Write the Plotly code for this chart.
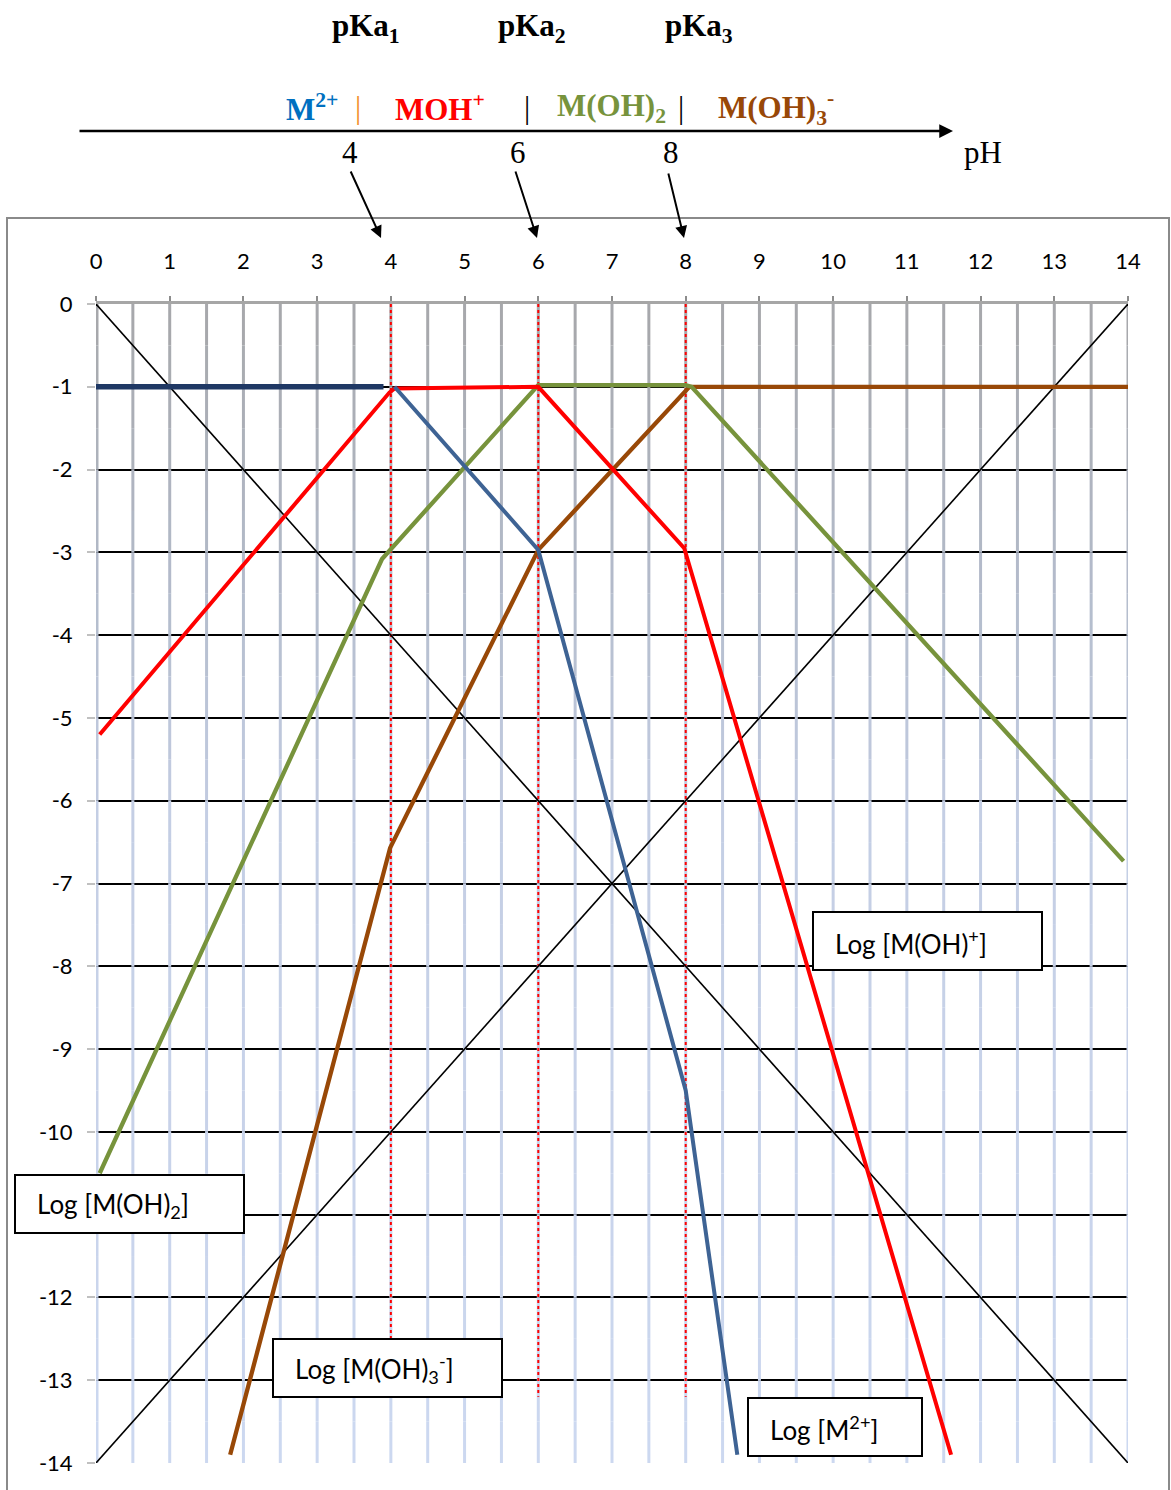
import plotly.graph_objects as go

# ---------------- data ----------------
ph_ticks = list(range(0, 15))
log_ticks = list(range(-14, 1))
grid_x = [i * 0.5 for i in range(29)]
pka_values = [4, 6, 8]

# log[H+] and log[OH-]
h_x = [0, 14]
h_y = [0, -14]
oh_x = [0, 14]
oh_y = [-14, 0]

# log [M2+]
m_flat_x = [0, 3.9]
m_flat_y = [-1, -1]
m_x = [4.05, 6.0, 8.0, 8.7]
m_y = [-1.0, -2.97, -9.5, -13.9]

# log [M(OH)+]
moh_x = [0.05, 3.98, 4.05, 6.0, 7.98, 11.6]
moh_y = [-5.2, -1.07, -1.02, -1.0, -2.95, -13.9]

# log [M(OH)2]
moh2_x = [0.05, 3.88, 6.0, 8.0, 8.08, 13.94]
moh2_y = [-10.5, -3.08, -0.98, -0.98, -1.0, -6.73]

# log [M(OH)3-]
moh3_x = [1.82, 3.99, 6.0, 8.0, 8.05, 14.04]
moh3_y = [-13.9, -6.57, -2.97, -1.05, -1.0, -1.0]

# ---------------- layout geometry ----------------
W, H = 1171, 1490
L, R, T, B = 96, 43, 304, 27
PW, PH = W - L - R, H - T - B


def px(x):
    return (x - L) / PW


def py(y):
    return (H - B - y) / PH


fig = go.Figure()

# vertical gridlines with vertical colour gradient (grey -> light blue)
knots = [(0.0, (166, 167, 170)), (0.25, (180, 188, 204)),
         (0.45, (196, 206, 228)), (1.0, (204, 216, 240))]


def col(t):
    for (t0, c0), (t1, c1) in zip(knots[:-1], knots[1:]):
        if t <= t1:
            f = (t - t0) / (t1 - t0)
            return "rgb(%d,%d,%d)" % tuple(round(a + f * (b - a)) for a, b in zip(c0, c1))
    return "rgb(%d,%d,%d)" % knots[-1][1]


N = 28
for j in range(N):
    y0 = -14 * j / N
    y1 = -14 * (j + 1) / N
    c = col((j + 0.5) / N)
    xs, ys = [], []
    for gx in grid_x[1:]:
        xs += [gx, gx, None]
        ys += [y0, y1, None]
    fig.add_trace(go.Scatter(x=xs, y=ys, mode="lines", line=dict(color=c, width=3),
                             hoverinfo="skip", showlegend=False))
    fig.add_trace(go.Scatter(x=[grid_x[0], grid_x[0]], y=[y0, y1], mode="lines",
                             line=dict(color=c, width=5), hoverinfo="skip", showlegend=False))

# pKa dotted lines
for p in pka_values:
    fig.add_trace(go.Scatter(x=[p, p], y=[0, -13.2], mode="lines",
                             line=dict(color="#FF0000", width=2, dash="dot"),
                             hoverinfo="skip", showlegend=False))

# black diagonals
fig.add_trace(go.Scatter(x=h_x, y=h_y, mode="lines", line=dict(color="black", width=1.6), showlegend=False))
fig.add_trace(go.Scatter(x=oh_x, y=oh_y, mode="lines", line=dict(color="black", width=1.6), showlegend=False))

# species
fig.add_trace(go.Scatter(x=m_flat_x, y=m_flat_y, mode="lines", line=dict(color="#1F3864", width=5.5), showlegend=False))
fig.add_trace(go.Scatter(x=moh3_x, y=moh3_y, mode="lines", line=dict(color="#984807", width=4.3), showlegend=False))
fig.add_trace(go.Scatter(x=moh2_x, y=moh2_y, mode="lines", line=dict(color="#77933C", width=4.3), showlegend=False))
fig.add_trace(go.Scatter(x=moh_x, y=moh_y, mode="lines", line=dict(color="#FF0000", width=4.0), showlegend=False))
fig.add_trace(go.Scatter(x=m_x, y=m_y, mode="lines", line=dict(color="#3E6394", width=4.0), showlegend=False))

shapes = []
annotations = []

# outer frame
shapes.append(dict(type="rect", xref="paper", yref="paper",
                   x0=px(7), x1=px(1169), y0=py(1496), y1=py(218),
                   line=dict(color="#8a8a8a", width=2), layer="below"))

# label boxes
boxes = [
    ("Log [M(OH)<sup>+</sup>]", 813, 1042, 912, 970),
    ("Log [M(OH)<sub>2</sub>]", 15, 244, 1175, 1233),
    ("Log [M(OH)<sub>3</sub><sup>-</sup>]", 273, 502, 1339, 1397),
    ("Log [M<sup>2+</sup>]", 748, 922, 1398, 1456),
]
for txt, x0, x1, y0, y1 in boxes:
    shapes.append(dict(type="rect", xref="paper", yref="paper",
                       x0=px(x0), x1=px(x1), y0=py(y1), y1=py(y0),
                       line=dict(color="black", width=2), fillcolor="white", layer="above"))
    annotations.append(dict(xref="paper", yref="paper", x=px(x0 + 20), y=py((y0 + y1) / 2 + 1),
                            xanchor="left", yanchor="middle", showarrow=False, text=txt,
                            font=dict(family="Lato, Open Sans, sans-serif", size=26, color="black")))

serif = "Liberation Serif, Times New Roman, serif"
HS = 31


def label(txt, xc, yc, color="black", size=HS):
    annotations.append(dict(xref="paper", yref="paper", x=px(xc), y=py(yc),
                            xanchor="center", yanchor="middle", showarrow=False,
                            text=txt, font=dict(family=serif, size=size, color=color)))


# pKa header
for i, xc in enumerate([366, 532, 699]):
    label("<b>pKa<sub>%d</sub></b>" % (i + 1), xc, 28)

# species row
species = [
    ("<b>M<sup>2+</sup></b>", 312, "#0070C0"),
    ("|", 358, "#F28C28"),
    ("<b>MOH<sup>+</sup></b>", 440, "#FF0000"),
    ("|", 527, "black"),
    ("<b>M(OH)<sub>2</sub></b>", 611, "#77933C"),
    ("|", 681, "black"),
    ("<b>M(OH)<sub>3</sub><sup>-</sup></b>", 776, "#984807"),
]
for txt, xc, c in species:
    label(txt, xc, 108, c)

# pH axis arrow
annotations.append(dict(xref="paper", yref="paper", x=px(953), y=py(131), ax=-875, ay=0,
                        axref="pixel", ayref="pixel", showarrow=True, text="",
                        arrowhead=2, arrowsize=1.1, arrowwidth=2.5, arrowcolor="black"))
label("pH", 983, 153)

# pKa numbers and arrows to the axis
for p, (xn, xt, yt, xh) in zip(pka_values, [(350, 350, 170, 381), (518, 515, 170, 537), (671, 668, 172, 684)]):
    label(str(p), xn, 152)
    annotations.append(dict(xref="paper", yref="paper", x=px(xh), y=py(238), ax=xt - xh, ay=yt - 238,
                            axref="pixel", ayref="pixel", showarrow=True, text="",
                            arrowhead=2, arrowsize=1.2, arrowwidth=2, arrowcolor="black"))

tickfont = dict(family="Lato, Open Sans, sans-serif", size=22, color="black")

fig.update_layout(
    width=W, height=H,
    margin=dict(l=L, r=R, t=T, b=B),
    paper_bgcolor="white", plot_bgcolor="white",
    shapes=shapes, annotations=annotations,
    xaxis=dict(range=[0, 14], side="top", tickmode="array", tickvals=ph_ticks,
               ticktext=[str(v) for v in ph_ticks], showgrid=False, zeroline=False,
               showline=True, linecolor="#a6a6a6", linewidth=3,
               ticks="outside", ticklen=5, tickcolor="#8c8c8c", tickwidth=2,
               ticklabelstandoff=18, tickfont=tickfont),
    yaxis=dict(range=[-14, 0], tickmode="array", tickvals=log_ticks,
               ticktext=[str(v) for v in log_ticks], showgrid=True, gridcolor="black",
               gridwidth=2, zeroline=False, showline=False,
               ticks="outside", ticklen=8, tickcolor="#c0c0c0", tickwidth=2,
               ticklabelstandoff=10, tickfont=tickfont),
)

fig.write_html("out.html", config={"displayModeBar": False},
               post_script="document.body.style.margin='0';")
